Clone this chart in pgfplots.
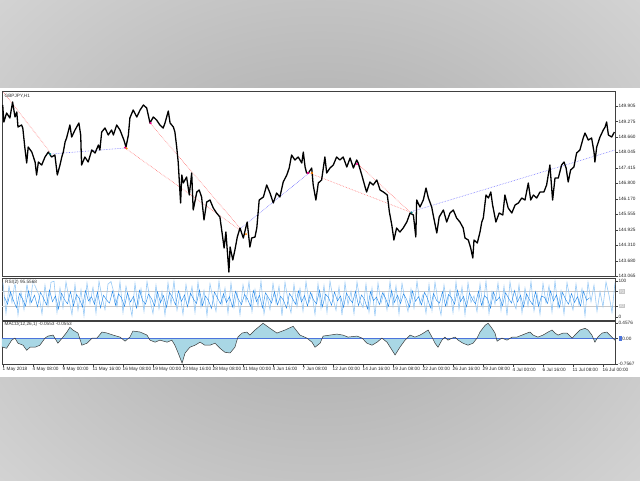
\documentclass[border=0pt]{standalone}
\usepackage{pgfplots}
\pgfplotsset{compat=1.18}
\usepackage{pgfplotstable}
\usepackage{fontspec}
\setmainfont{Liberation Sans}
\definecolor{bgA}{HTML}{B4B4B4}
\definecolor{bgB}{HTML}{F2F2F2}
\definecolor{frm}{HTML}{404040}
\definecolor{rsiL}{HTML}{90C6F6}
\definecolor{rsiD}{HTML}{2186E8}
\definecolor{macdFill}{HTML}{A9D7E5}
\definecolor{macdLine}{HTML}{3A3A3A}
\definecolor{zeroB}{HTML}{4C74DC}
\definecolor{trR}{HTML}{FF7A7A}
\definecolor{trB}{HTML}{7A7AFF}
\definecolor{lvl}{HTML}{C8C8C8}
\pgfdeclareradialshading{bgshade}{\pgfpoint{0bp}{0bp}}{color(0bp)=(bgA); color(10bp)=(bgA); color(50bp)=(bgB)}
\newcommand{\tf}{\fontsize{4.7}{5.5}\selectfont}
\newcommand{\lvlbox}[1]{{\setlength{\fboxsep}{0.6pt}\colorbox{gray!45}{\textcolor{white}{#1}}}}
\newcommand{\zlab}{\textcolor{zeroB}{\rule[-0.6pt]{3pt}{4.6pt}}\,0.00}

\pgfplotstableread[header=false,row sep=\\]{95\\10\\85\\40\\98\\5\\70\\20\\92\\35\\
99\\80\\60\\8\\88\\30\\96\\99\\12\\80\\
25\\97\\50\\6\\90\\18\\75\\3\\94\\38\\
82\\10\\99\\55\\20\\91\\98\\66\\28\\97\\
12\\85\\44\\2\\93\\30\\78\\15\\98\\48\\
9\\88\\22\\70\\5\\95\\35\\99\\18\\62\\
7\\90\\40\\84\\12\\97\\27\\73\\4\\92\\
50\\15\\99\\33\\80\\10\\94\\25\\68\\6\\
89\\42\\97\\14\\76\\30\\99\\8\\58\\20\\
93\\37\\85\\3\\96\\46\\11\\90\\28\\79\\
16\\98\\40\\64\\7\\92\\23\\87\\12\\99\\
52\\18\\83\\5\\95\\34\\71\\9\\97\\44\\
26\\91\\13\\80\\2\\94\\38\\67\\19\\98\\
29\\86\\8\\93\\48\\15\\77\\24\\99\\36\\
62\\10\\90\\17\\96\\43\\5\\88\\31\\74\\
12\\97\\21\\83\\6\\95\\40\\58\\14\\92\\
27\\99\\9\\70\\35\\94\\18\\85\\4\\97\\
45\\22\\89\\11\\80\\30\\98\\16\\65\\7\\
93\\39\\86\\13\\99\\26\\72\\8\\95\\50\\
19\\91\\33\\78\\3\\96\\42\\88\\15\\70\\
28\\97\\60\\12\\95\\}\rsiA

\pgfplotstableread[header=false,row sep=\\]{55\\35\\70\\45\\25\\65\\50\\30\\72\\40\\
60\\28\\68\\52\\33\\75\\42\\58\\22\\66\\
48\\36\\70\\30\\62\\50\\27\\73\\44\\56\\
35\\69\\25\\60\\47\\38\\71\\32\\64\\53\\
29\\67\\41\\57\\24\\74\\46\\35\\63\\51\\
30\\70\\39\\59\\26\\68\\54\\33\\72\\43\\
61\\28\\66\\49\\37\\75\\31\\58\\45\\23\\
69\\52\\36\\64\\40\\56\\27\\71\\48\\34\\
62\\50\\29\\73\\42\\60\\25\\67\\53\\38\\
70\\33\\57\\46\\24\\65\\51\\35\\72\\41\\
59\\30\\68\\47\\36\\74\\28\\63\\54\\32\\
69\\44\\58\\26\\66\\50\\39\\71\\31\\61\\
48\\22\\70\\45\\55\\34\\67\\52\\29\\73\\
40\\60\\37\\64\\49\\27\\72\\43\\56\\33\\
68\\51\\25\\65\\46\\38\\70\\30\\62\\53\\
35\\74\\42\\57\\28\\66\\48\\36\\71\\32\\
59\\50\\24\\69\\45\\55\\31\\67\\52\\38\\
73\\41\\60\\27\\64\\47\\34\\70\\29\\58\\
54\\37\\72\\44\\61\\26\\68\\49\\35\\65\\
40\\56\\30\\71\\46\\53\\}\rsiB

\pgfplotstableread{
x y
-0.04 -0.25
0.12 -0.29
0.29 -0.05
0.40 0.01
0.50 -0.14
0.67 -0.20
0.79 -0.35
0.90 -0.26
1.07 -0.26
1.23 -0.20
1.40 0.01
1.50 0.07
1.67 0.10
1.83 -0.14
2.00 0.04
2.13 0.19
2.23 0.33
2.33 0.25
2.50 0.16
2.63 -0.20
2.80 -0.14
2.97 0.01
3.13 0.01
3.30 0.19
3.47 0.16
3.67 0.10
3.90 0.04
4.07 -0.08
4.23 0.04
4.33 0.22
4.57 0.19
4.80 0.10
4.90 -0.05
5.07 -0.11
5.23 -0.05
5.47 -0.11
5.63 -0.05
5.73 -0.20
5.83 -0.41
5.97 -0.73
6.07 -0.43
6.23 -0.26
6.40 -0.20
6.57 -0.11
6.73 -0.20
6.90 -0.20
7.07 -0.14
7.23 -0.29
7.40 -0.41
7.57 -0.43
7.73 -0.26
7.83 0.04
7.97 0.16
8.13 0.19
8.23 0.10
8.40 0.25
8.67 0.45
8.90 0.30
9.13 0.16
9.40 0.25
9.67 0.36
9.90 0.10
10.13 0.01
10.30 -0.11
10.40 -0.26
10.57 -0.14
10.67 0.07
10.90 0.10
11.13 0.13
11.33 0.10
11.50 0.04
11.80 0.07
11.97 0.01
12.13 -0.14
12.30 -0.20
12.47 -0.11
12.63 0.01
12.80 -0.11
12.97 -0.35
13.07 -0.49
13.23 -0.26
13.40 -0.05
13.57 0.10
13.73 0.04
13.90 0.10
14.07 0.19
14.17 0.25
14.30 0.04
14.40 -0.14
14.50 -0.26
14.63 -0.05
14.73 0.04
14.83 -0.05
14.97 0.01
15.07 0.04
15.17 -0.05
15.33 -0.14
15.50 -0.20
15.67 -0.14
15.80 0.01
15.90 0.19
16.07 0.39
16.17 0.45
16.30 0.30
16.40 0.16
16.47 -0.08
16.63 0.01
16.80 -0.05
16.97 0.04
17.13 0.04
17.30 0.10
17.47 0.16
17.57 0.19
17.67 0.10
17.83 0.04
18.00 0.10
18.17 0.19
18.30 0.25
18.40 0.16
18.50 0.10
18.67 0.16
18.80 0.16
18.97 0.01
19.13 0.16
19.23 0.25
19.40 0.30
19.50 0.25
19.63 0.10
19.73 -0.11
19.83 0.04
19.97 0.16
20.13 0.19
20.23 0.10
20.33 0.01
20.40 -0.055
}\macd

\pgfplotsset{mt/.style={
  scale only axis, width=613pt,
  xmin=-0.033, xmax=20.4,
  axis line style={frm, line width=0.7pt},
  tick align=outside, major tick length=2.5pt,
  tick style={frm, line width=0.4pt},
  ytick pos=right, yticklabel pos=right,
  yticklabel style={font=\tf, text=black!85, inner sep=0.8pt},
  xticklabel style={font=\tf, text=black!85},
  /pgf/number format/assume math mode=true,
  clip=true,
}}

\begin{document}
\begin{tikzpicture}
\useasboundingbox (0pt,0pt) rectangle (640pt,-480pt);
\begin{scope}
\clip (0pt,0pt) rectangle (640pt,-480pt);
\shade[shading=bgshade] (-40pt,60pt) rectangle (680pt,-540pt);
\end{scope}
\fill[white] (0pt,-88pt) rectangle (640pt,-377pt);

% ---------------- main price panel
\begin{axis}[mt,
  at={(2pt,-91pt)}, anchor=north west, height=185pt,
  ymin=143.065, ymax=150.509,
  xtick=\empty,
  ytick={143.065,143.680,144.310,144.925,145.555,146.170,146.800,147.415,148.045,148.660,149.275,149.905},
  yticklabels={143.065,143.680,144.310,144.925,145.555,146.170,146.800,147.415,148.045,148.660,149.275,149.905},
]
\addplot[trR, densely dotted, line width=0.6pt] coordinates {(0.01,150.469)(1.57,148.054)};
\addplot[trB, densely dotted, line width=0.6pt] coordinates {(1.57,147.97)(4.07,148.215)};
\addplot[trR, densely dotted, line width=0.6pt] coordinates {(4.07,148.215)(7.90,144.916)};
\addplot[trR, densely dotted, line width=0.6pt] coordinates {(4.90,149.221)(7.90,144.996)};
\addplot[trB, densely dotted, line width=0.6pt] coordinates {(7.90,144.956)(10.20,147.210)};
\addplot[trR, densely dotted, line width=0.6pt] coordinates {(10.20,147.210)(13.57,145.640)};
\addplot[trR, densely dotted, line width=0.6pt] coordinates {(11.83,147.572)(13.57,145.640)};
\addplot[trB, densely dotted, line width=0.6pt] coordinates {(13.57,145.640)(20.40,148.135)};
\addplot[black, line width=1.3pt, line join=round] coordinates {
(-0.01,149.946)(0.03,149.262)(0.12,149.624)(0.23,149.423)(0.32,150.067)(0.40,149.463)(0.46,149.664)(0.50,149.060)(0.62,149.141)(0.66,149.020)
(0.73,148.215)(0.79,147.612)(0.84,148.256)(0.96,148.054)(1.07,147.652)(1.12,147.129)(1.18,147.652)(1.29,147.531)(1.40,147.853)(1.51,148.054)
(1.62,147.853)(1.73,147.934)(1.81,147.129)(1.90,147.531)(1.96,147.853)(2.01,148.054)(2.07,148.457)(2.12,148.618)(2.23,149.141)(2.29,148.658)
(2.40,148.940)(2.53,149.221)(2.59,148.739)(2.62,147.531)(2.73,147.853)(2.84,147.652)(2.96,148.135)(3.07,148.014)(3.18,148.336)(3.23,148.135)
(3.29,148.859)(3.40,149.020)(3.51,148.739)(3.62,148.940)(3.68,148.739)(3.79,149.141)(3.90,148.940)(4.03,148.537)(4.10,148.256)(4.18,148.739)
(4.23,149.423)(4.34,149.745)(4.46,149.463)(4.57,149.745)(4.68,149.946)(4.79,149.825)(4.90,149.221)(5.01,149.463)(5.12,149.342)(5.23,149.141)
(5.34,149.020)(5.40,149.221)(5.51,149.704)(5.57,149.221)(5.68,149.060)(5.73,148.859)(5.79,148.256)(5.84,147.652)(5.92,146.003)(5.96,147.129)
(6.01,146.807)(6.12,147.048)(6.21,146.324)(6.29,147.210)(6.34,145.721)(6.46,146.445)(6.54,146.525)(6.62,146.244)(6.70,145.318)(6.79,146.043)
(6.90,146.123)(7.01,145.801)(7.12,145.600)(7.23,145.439)(7.29,144.916)(7.37,144.192)(7.43,144.835)(7.48,144.031)(7.53,143.226)(7.57,144.232)
(7.66,143.709)(7.73,144.111)(7.81,144.634)(7.90,144.996)(8.01,144.594)(8.14,145.238)(8.23,144.232)(8.29,144.594)(8.40,144.634)(8.46,144.996)
(8.54,146.123)(8.68,146.244)(8.79,146.727)(8.90,146.405)(9.01,146.003)(9.12,146.405)(9.23,146.244)(9.34,146.847)(9.46,147.129)(9.54,147.411)
(9.62,147.934)(9.73,147.733)(9.84,147.853)(9.96,147.612)(10.01,148.054)(10.07,147.451)(10.12,147.210)(10.18,147.210)(10.29,147.411)(10.34,146.727)
(10.43,146.123)(10.51,146.807)(10.62,146.928)(10.73,147.853)(10.79,147.210)(10.90,147.411)(11.01,147.531)(11.12,147.853)(11.23,147.733)(11.34,147.853)
(11.46,147.451)(11.57,147.813)(11.68,147.411)(11.79,147.733)(11.84,147.612)(11.96,147.129)(12.07,146.646)(12.12,146.445)(12.23,146.847)(12.34,146.727)
(12.46,146.928)(12.57,146.525)(12.68,146.445)(12.81,146.324)(12.88,145.640)(12.96,145.117)(13.03,144.513)(13.12,144.996)(13.23,144.835)(13.34,144.996)
(13.46,145.238)(13.57,145.600)(13.68,145.519)(13.76,144.634)(13.79,146.123)(13.90,145.841)(14.01,146.123)(14.10,146.606)(14.18,146.203)(14.29,145.841)
(14.34,145.519)(14.46,144.795)(14.54,145.439)(14.68,145.721)(14.79,145.238)(14.90,145.600)(15.01,145.721)(15.12,145.399)(15.23,145.238)(15.34,144.996)
(15.40,144.594)(15.51,144.513)(15.59,144.192)(15.66,143.789)(15.70,144.513)(15.81,144.393)(15.90,144.835)(15.96,145.238)(16.01,145.399)(16.10,146.324)
(16.18,146.203)(16.26,146.445)(16.32,145.922)(16.43,145.238)(16.54,145.600)(16.66,145.519)(16.73,146.324)(16.84,145.801)(16.96,145.600)(17.07,145.922)
(17.18,146.003)(17.29,146.203)(17.40,146.123)(17.51,146.807)(17.59,146.123)(17.68,146.324)(17.79,146.203)(17.90,146.445)(18.03,146.445)(18.12,146.727)
(18.23,147.531)(18.32,146.123)(18.40,147.008)(18.51,147.008)(18.62,147.531)(18.70,147.652)(18.77,147.411)(18.84,146.847)(18.92,147.330)(19.03,147.451)
(19.12,148.014)(19.23,148.135)(19.34,148.618)(19.40,148.819)(19.51,148.537)(19.62,148.618)(19.70,148.054)(19.73,147.652)(19.79,148.256)(19.90,148.658)
(20.01,148.940)(20.07,149.060)(20.12,149.262)(20.18,148.739)(20.29,148.658)(20.38,148.859)};
\addplot[only marks, mark=*, mark size=0.9pt, magenta] coordinates {(4.07,148.23)(4.92,149.22)(10.17,147.21)(11.80,147.57)};
\addplot[only marks, mark=*, mark size=0.8pt, orange] coordinates {(4.12,148.20)(10.30,147.21)(8.10,144.75)};
\addplot[only marks, mark=*, mark size=0.8pt, teal] coordinates {(1.57,147.97)(13.62,145.62)};
\node[anchor=north west, font=\tf, text=black!80, inner sep=0pt] at (rel axis cs:0.004,0.985) {GBPJPY,H1};
\end{axis}

% ---------------- RSI panel
\begin{axis}[mt,
  at={(2pt,-278pt)}, anchor=north west, height=42pt,
  ymin=-9, ymax=108,
  xtick=\empty,
  ytick={0,30,70,100},
  yticklabels={0,\lvlbox{30},\lvlbox{70},100},
]
\addplot[lvl, line width=0.4pt] coordinates {(-0.033,70)(20.4,70)};
\addplot[lvl, line width=0.4pt] coordinates {(-0.033,30)(20.4,30)};
\addplot[rsiL, line width=0.55pt] table[x expr=\coordindex*0.1, y index=0] {\rsiA};
\addplot[rsiD, line width=0.4pt] table[x expr=\coordindex*0.1+0.05, y index=0] {\rsiB};
\node[anchor=north west, font=\tf, text=black!80, inner sep=0.5pt, fill=white, fill opacity=0.6, text opacity=1] at (rel axis cs:0.004,0.96) {RSI(2) 95.5568};
\end{axis}

% ---------------- MACD panel
\begin{axis}[mt,
  at={(2pt,-321pt)}, anchor=north west, height=43pt,
  ymin=-0.7567, ymax=0.517,
  ytick={-0.7567,0,0.4576},
  yticklabels={-0.7567,\zlab,0.4576},
  xtick={0,...,20}, xtick pos=bottom,
  xticklabels={1 May 2018,4 May 08:00,9 May 00:00,11 May 16:00,16 May 08:00,19 May 00:00,23 May 16:00,28 May 08:00,31 May 00:00,4 Jun 16:00,7 Jun 08:00,12 Jun 00:00,14 Jun 16:00,19 Jun 08:00,22 Jun 00:00,26 Jun 16:00,29 Jun 08:00,4 Jul 00:00,6 Jul 16:00,11 Jul 08:00,16 Jul 00:00},
  xticklabel style={anchor=north west, xshift=-1.5pt, inner sep=1pt},
]
\addplot[fill=macdFill, draw=none] table[x=x, y=y] {\macd} \closedcycle;
\addplot[zeroB, line width=0.6pt] coordinates {(-0.033,0)(20.4,0)};
\addplot[macdLine, line width=0.5pt] table[x=x, y=y] {\macd};
\node[anchor=north west, font=\tf, text=black!80, inner sep=0pt] at (rel axis cs:0.004,0.97) {MACD(12,26,1) -0.0553 -0.0553};
\end{axis}
\end{tikzpicture}
\end{document}
